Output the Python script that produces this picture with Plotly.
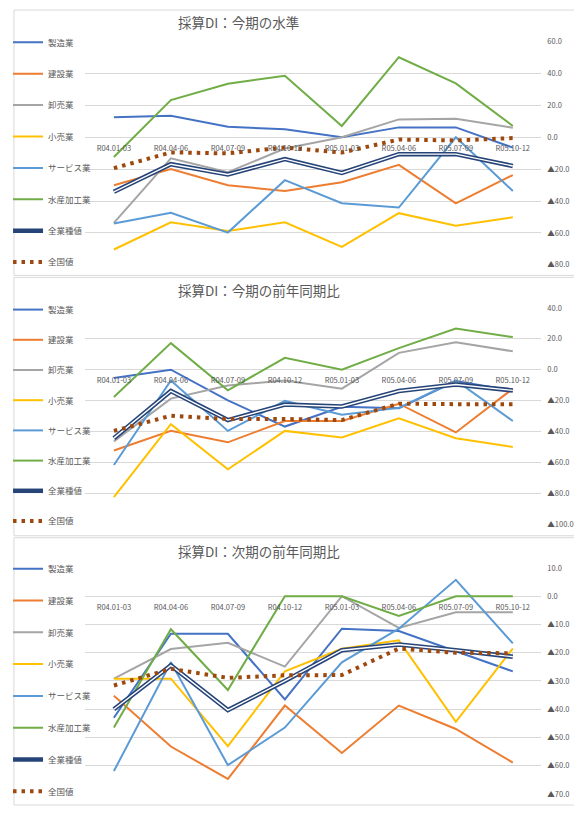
import plotly.graph_objects as go

# The page body has an 8px margin, so the figure is drawn 8px in from the corner.
OFF = 8
W, H = 582 - 2 * OFF, 818 - 2 * OFF

categories = ["R04.01-03", "R04.04-06", "R04.07-09", "R04.10-12",
              "R05.01-03", "R05.04-06", "R05.07-09", "R05.10-12"]

series_names = ["製造業", "建設業", "卸売業", "小売業", "サービス業", "水産加工業", "全業種値", "全国値"]
series_colors = ["#4472C4", "#ED7D31", "#A5A5A5", "#FFC000", "#5B9BD5", "#70AD47", "#264478", "#9E480E"]

panel_titles = ["採算DI：今期の水準", "採算DI：今期の前年同期比", "採算DI：次期の前年同期比"]

# Panel 1: 今期の水準
p1_seizo = [12.5, 13.5, 6.6, 5.0, 0.0, 6.2, 6.2, -6.5]
p1_kensetsu = [-30.1, -20.0, -30.1, -33.7, -28.2, -17.3, -41.4, -23.7]
p1_oroshi = [-53.7, -13.2, -21.9, -7.1, 0.0, 11.2, 11.6, 6.0]
p1_kouri = [-70.4, -53.3, -58.8, -53.3, -68.8, -47.6, -55.5, -50.2]
p1_service = [-54.1, -47.4, -59.8, -26.9, -41.4, -44.1, 0.0, -33.7]
p1_suisan = [-12.4, 23.3, 33.6, 38.6, 7.1, 50.2, 33.8, 7.1]
p1_zengyoshu = [-34.2, -16.9, -23.3, -13.7, -22.4, -10.6, -10.6, -18.0]
p1_zenkoku = [-19.4, -9.5, -10.1, -6.4, -9.6, -1.4, -2.0, -0.5]

# Panel 2: 今期の前年同期比
p2_seizo = [-5.3, 0.0, -19.8, -36.8, -24.0, -25.0, -7.4, -13.6]
p2_kensetsu = [-52.3, -39.6, -47.0, -33.2, -33.2, -22.0, -40.6, -12.3]
p2_oroshi = [-46.4, -18.7, -10.2, -7.0, -12.3, 10.9, 17.7, 11.9]
p2_kouri = [-82.5, -35.3, -64.5, -39.6, -43.8, -31.5, -44.3, -50.0]
p2_service = [-61.7, -7.0, -39.6, -20.2, -29.2, -24.7, -7.0, -33.2]
p2_suisan = [-17.7, 17.2, -13.3, 7.7, 0.0, 14.0, 26.6, 21.1]
p2_zengyoshu = [-44.3, -13.8, -32.6, -22.6, -23.8, -13.8, -9.6, -13.4]
p2_zenkoku = [-39.6, -29.8, -31.9, -31.9, -32.6, -22.0, -22.3, -22.3]

# Panel 3: 次期の前年同期比
p3_seizo = [-43.0, -13.3, -13.3, -36.5, -11.5, -12.3, -19.5, -26.6]
p3_kensetsu = [-35.2, -53.2, -64.7, -38.7, -55.5, -38.7, -47.0, -58.9]
p3_oroshi = [-29.2, -18.7, -16.5, -24.9, 0.0, -11.2, -5.7, -5.7]
p3_kouri = [-29.2, -29.2, -53.1, -26.6, -18.6, -15.6, -44.5, -18.5]
p3_service = [-61.9, -23.4, -59.8, -46.5, -23.4, -11.5, 5.8, -16.7]
p3_suisan = [-46.5, -11.7, -33.2, 0.0, 0.0, -7.0, 0.0, 0.0]
p3_zengyoshu = [-40.0, -24.5, -40.3, -30.0, -19.1, -17.1, -19.1, -21.4]
p3_zenkoku = [-31.6, -25.7, -28.9, -28.0, -27.9, -18.5, -20.0, -20.2]

p1_ticks = [60, 40, 20, 0, -20, -40, -60, -80]
p2_ticks = [40, 20, 0, -20, -40, -60, -80, -100]
p3_ticks = [10, 0, -10, -20, -30, -40, -50, -60, -70]

panels = [
    [p1_seizo, p1_kensetsu, p1_oroshi, p1_kouri, p1_service, p1_suisan, p1_zengyoshu, p1_zenkoku],
    [p2_seizo, p2_kensetsu, p2_oroshi, p2_kouri, p2_service, p2_suisan, p2_zengyoshu, p2_zenkoku],
    [p3_seizo, p3_kensetsu, p3_oroshi, p3_kouri, p3_service, p3_suisan, p3_zengyoshu, p3_zenkoku],
]
panel_ticks = [p1_ticks, p2_ticks, p3_ticks]

# layout geometry in page pixels
plot_left, plot_right = 83.2, 544.0
y_px = [(36.0, 262.3), (306.0, 525.3), (569.7, 798.8)]
legend_first = [38.0, 309.0, 571.7]
legend_gap = [12.4, 11.2, 12.8]
title_y = [16, 288, 552]
borders = [(4, 273), (275, 537), (539, 810)]

def px(x):
    return (x - OFF) / W

def py(y):
    return 1 - (y - OFF) / H

FONT = "Noto Sans CJK JP"
GRAY = "#595959"

def tick_label(v):
    return "▲" + f"{abs(v):.1f}" if v < 0 else f"{v:.1f}"

fig = go.Figure()
layout = dict(
    width=W, height=H, margin=dict(l=0, r=0, t=0, b=0),
    paper_bgcolor="white", plot_bgcolor="white",
    showlegend=True, font=dict(family=FONT, color=GRAY),
)
annotations = []
shapes = []

for p in range(3):
    sfx = "" if p == 0 else str(p + 1)
    xa, ya = "x" + sfx, "y" + sfx
    leg = "legend" + sfx
    ticks = panel_ticks[p]
    rmax, rmin = max(ticks), min(ticks)
    top_px, bot_px = y_px[p]
    d0, d1 = py(bot_px), py(top_px)
    zero_pos = d0 + (0 - rmin) / (rmax - rmin) * (d1 - d0)

    for i, (name, col, vals) in enumerate(zip(series_names, series_colors, panels[p])):
        grp = f"p{p}_{i}"
        if name == "全業種値":
            fig.add_trace(go.Scatter(x=categories, y=vals, mode="lines", name=name,
                                     line=dict(color=col, width=4.5), xaxis=xa, yaxis=ya,
                                     legend=leg, legendgroup=grp))
            fig.add_trace(go.Scatter(x=categories, y=vals, mode="lines", name=name,
                                     line=dict(color="white", width=1.4), xaxis=xa, yaxis=ya,
                                     legend=leg, legendgroup=grp, showlegend=False))
        elif name == "全国値":
            fig.add_trace(go.Scatter(x=categories, y=vals, mode="lines", name=name,
                                     line=dict(color=col, width=4, dash="3.5px,5px"),
                                     xaxis=xa, yaxis=ya, legend=leg, legendgroup=grp))
        else:
            fig.add_trace(go.Scatter(x=categories, y=vals, mode="lines", name=name,
                                     line=dict(color=col, width=2), xaxis=xa, yaxis=ya,
                                     legend=leg, legendgroup=grp))

    layout["xaxis" + sfx] = dict(
        domain=[px(plot_left), px(plot_right)], type="category", range=[-0.5, 7.5],
        anchor="free", position=zero_pos, showgrid=False, showline=False, zeroline=False,
        ticks="", tickfont=dict(size=7.5, color=GRAY, family=FONT), ticklabelstandoff=5,
    )
    layout["yaxis" + sfx] = dict(
        domain=[d0, d1], range=[rmin, rmax], side="right", anchor=xa,
        tickvals=ticks, ticktext=[tick_label(v) for v in ticks],
        showgrid=True, gridcolor="#D9D9D9", gridwidth=1, zeroline=False, showline=False,
        ticks="", tickfont=dict(size=7.5, color=GRAY, family=FONT), ticklabelstandoff=5,
    )
    layout[leg] = dict(
        x=px(OFF - 3), y=py(legend_first[p] - 16), xanchor="left", yanchor="top",
        traceorder="grouped", tracegroupgap=legend_gap[p], bgcolor="rgba(0,0,0,0)",
        font=dict(size=8.5, color=GRAY, family=FONT), itemwidth=30,
    )
    annotations.append(dict(
        text=panel_titles[p], xref="paper", yref="paper", x=px(175), y=py(title_y[p]),
        xanchor="left", yanchor="middle", showarrow=False,
        font=dict(size=13.5, color=GRAY, family=FONT),
    ))
    bt, bb = borders[p]
    shapes.append(dict(type="rect", xref="paper", yref="paper",
                       x0=px(11), x1=1.05, y0=py(bb), y1=py(bt),
                       line=dict(color="#D9D9D9", width=1), fillcolor="rgba(0,0,0,0)",
                       layer="below"))

layout["annotations"] = annotations
layout["shapes"] = shapes
fig.update_layout(**layout)

fig.write_html("out.html")
